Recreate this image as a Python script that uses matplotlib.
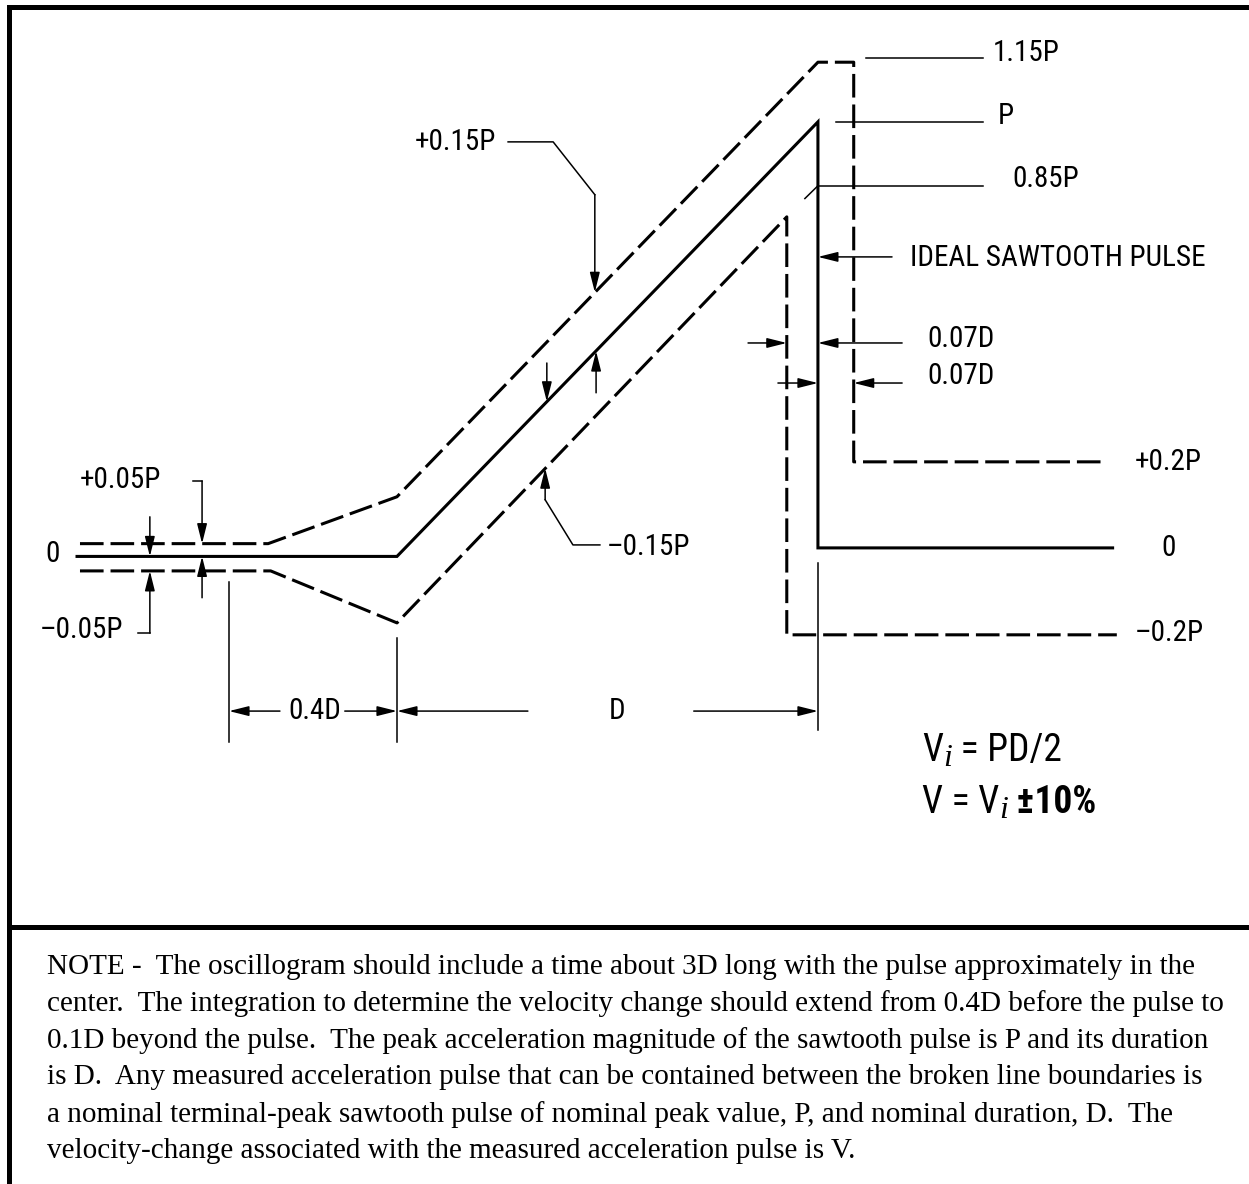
import matplotlib
matplotlib.use("Agg")
import matplotlib.pyplot as plt
from matplotlib.lines import Line2D
from matplotlib import font_manager
from matplotlib.font_manager import FontProperties

plt.rcParams['lines.scale_dashes'] = False

# x in units of D (pulse starts at 0), y in units of P
ideal_x = [-0.76, 0.0, 1.0, 1.0, 1.70]
ideal_y = [-0.02, -0.02, 1.0, 0.0, 0.0]

upper_x = [-0.753, -0.306, 0.0, 1.0, 1.085, 1.085, 1.677]
upper_y = [0.01, 0.01, 0.12, 1.14, 1.14, 0.202, 0.202]

lower_x = [-0.753, -0.30, 0.0, 0.926, 0.926, 1.71]
lower_y = [-0.054, -0.054, -0.176, 0.777, -0.204, -0.204]

level_labels = ["1.15P", "P", "0.85P"]
level_y = [1.15, 1.0, 0.85]
level_x0 = [1.114, 1.043, 1.0]
level_text_x = [1.416, 1.428, 1.461]
level_text_y = [1.162, 1.014, 0.866]

right_labels = ["+0.2P", "0", "\u20130.2P"]
right_x = [1.753, 1.815, 1.753]
right_y = [0.202, 0.0, -0.2]

note_lines = [
    "NOTE -  The oscillogram should include a time about 3D long with the pulse approximately in the",
    "center.  The integration to determine the velocity change should extend from 0.4D before the pulse to",
    "0.1D beyond the pulse.  The peak acceleration magnitude of the sawtooth pulse is P and its duration",
    "is D.  Any measured acceleration pulse that can be contained between the broken line boundaries is",
    "a nominal terminal-peak sawtooth pulse of nominal peak value, P, and nominal duration, D.  The",
    "velocity-change associated with the measured acceleration pulse is V.",
]


# the drawing uses a condensed sans; take one if it is installed
def pick_font():
    fl = font_manager.fontManager.ttflist
    names = {f.name for f in fl}
    for name in ['Liberation Sans Narrow', 'Arial Narrow', 'Roboto Condensed', 'Open Sans Condensed']:
        if name in names:
            return dict(family=name), 21
    for name in ['DejaVu Sans', 'Noto Sans', 'Open Sans', 'Roboto']:
        for f in fl:
            if f.name == name and f.stretch in ('condensed', 'semi-condensed') and f.style == 'normal':
                return dict(family=name, stretch=f.stretch), 21
    return dict(family='Liberation Sans'), 17.5


LF, FS = pick_font()
DASH = (0, (17, 5))

fig = plt.figure(figsize=(12.49, 11.84), dpi=100)
ax = fig.add_axes([0, 0, 1, 1])
ax.set_xlim(-0.943, 2.024)
ax.set_ylim(-1.493, 1.286)
ax.axis('off')

ax.plot(ideal_x, ideal_y, color='black', lw=2.2, solid_joinstyle='miter')
ax.plot(upper_x, upper_y, color='black', lw=2.2, linestyle=DASH)
ax.plot(lower_x, lower_y, color='black', lw=2.2, linestyle=DASH)
ax.plot([0.969, 1.0], [0.82, 0.85], color='black', lw=1.1)


def arrow(tail, tip):
    ax.annotate('', xy=tip, xytext=tail,
                arrowprops=dict(arrowstyle='-|>,head_length=1.2,head_width=0.3',
                                color='black', lw=1.1, shrinkA=0, shrinkB=0,
                                mutation_scale=10))


def thin(xs, ys):
    ax.plot(xs, ys, color='black', lw=1.1)


def label(x, y, s, ha='left'):
    ax.text(x, y, s, fontproperties=FontProperties(size=FS, **LF), ha=ha, va='center')


# level leaders on the right
for lab, y, x0, tx, ty in zip(level_labels, level_y, level_x0, level_text_x, level_text_y):
    thin([x0, 1.392], [y, y])
    label(tx, ty, lab)

for lab, x, y in zip(right_labels, right_x, right_y):
    label(x, y, lab)

# ideal sawtooth pulse callout
arrow((1.176, 0.683), (1.0, 0.683))
label(1.219, 0.681, "IDEAL SAWTOOTH PULSE")

# 0.07D dimensions
arrow((0.834, 0.481), (0.926, 0.481))
arrow((1.20, 0.481), (1.0, 0.481))
arrow((0.905, 0.387), (1.0, 0.387))
arrow((1.20, 0.387), (1.085, 0.387))
label(1.259, 0.491, "0.07D")
label(1.259, 0.404, "0.07D")

# +/-0.15P on the slope
thin([0.264, 0.371, 0.470], [0.953, 0.953, 0.829])
arrow((0.470, 0.829), (0.470, 0.60))
label(0.043, 0.953, "+0.15P")
arrow((0.356, 0.434), (0.356, 0.343))
arrow((0.473, 0.364), (0.473, 0.462))
thin([0.482, 0.418, 0.352], [0.007, 0.007, 0.113])
arrow((0.352, 0.113), (0.352, 0.187))
label(0.499, 0.002, "\u20130.15P")

# +/-0.05P on the baseline
thin([-0.485, -0.463], [0.157, 0.157])
arrow((-0.463, 0.157), (-0.463, 0.01))
arrow((-0.587, 0.073), (-0.587, -0.02))
arrow((-0.463, -0.117), (-0.463, -0.02))
thin([-0.615, -0.587], [-0.2, -0.2])
arrow((-0.587, -0.2), (-0.587, -0.054))
label(-0.753, 0.16, "+0.05P")
label(-0.848, -0.192, "\u20130.05P")
label(-0.836, -0.014, "0")

# 0.4D and D dimensions
thin([-0.399, -0.399], [-0.08, -0.455])
thin([0.0, 0.0], [-0.211, -0.455])
thin([1.0, 1.0], [-0.035, -0.427])
dim_y = -0.383
arrow((-0.278, dim_y), (-0.399, dim_y))
arrow((-0.124, dim_y), (0.0, dim_y))
arrow((0.311, dim_y), (0.0, dim_y))
arrow((0.705, dim_y), (1.0, dim_y))
label(-0.195, dim_y, "0.4D", ha='center')
label(0.523, dim_y, "D", ha='center')

# velocity formulas, built piece by piece so the subscript i can be a serif italic
big = FontProperties(size=FS + 6, **LF)
bold = FontProperties(size=FS + 6, weight='bold', **LF)
sub = FontProperties(family='Liberation Serif', style='italic', size=FS + 2)


def formula(x, y, parts):
    first = prev = None
    for s, fp, dy in parts:
        if first is None:
            first = prev = ax.text(x, y, s, fontproperties=fp, ha='left', va='bottom')
        else:
            prev = ax.annotate(s, xy=(1, 0), xycoords=(prev, first), xytext=(0, dy),
                               textcoords='offset points', fontproperties=fp,
                               ha='left', va='bottom')


formula(1.247, -0.519, [("V", big, 0), ("i", sub, -3), (" = PD/2", big, 0)])
formula(1.247, -0.641, [("V = V", big, 0), ("i", sub, -3), (" \u00b110%", bold, 0)])

# frame
fig.add_artist(Line2D([0.0072, 1.0], [0.9941, 0.9941], color='black', lw=3.6, transform=fig.transFigure))
fig.add_artist(Line2D([0.0072, 0.0072], [0.0, 0.9941], color='black', lw=3.6, transform=fig.transFigure))
fig.add_artist(Line2D([0.0072, 1.0], [0.2171, 0.2171], color='black', lw=3.6, transform=fig.transFigure))

# note text
for i, line in enumerate(note_lines):
    fig.text(0.0376, 1 - (967 + 36.8 * i) / 1184, line, family=['Liberation Serif', 'DejaVu Serif'],
             fontsize=21, ha='left', va='center')

fig.savefig("out.png", dpi=100)
